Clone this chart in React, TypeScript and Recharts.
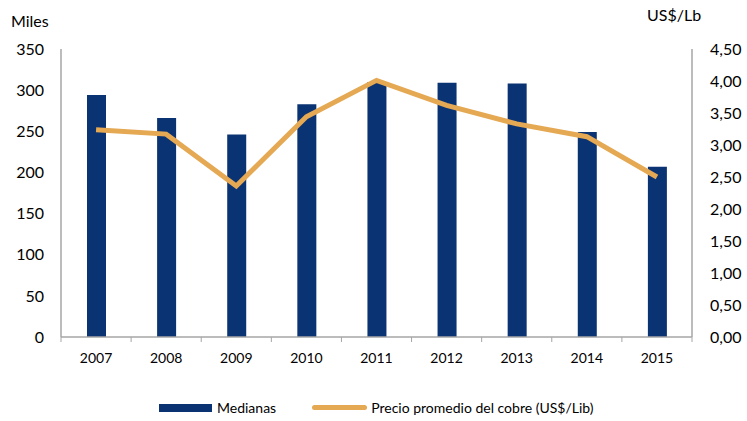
import * as React from "react"
import { Bar, ComposedChart, Line, XAxis, YAxis } from "recharts"

const years = ["2007", "2008", "2009", "2010", "2011", "2012", "2013", "2014", "2015"]
const medianas = [294, 266, 246, 283, 310, 309, 308, 249, 207]
const precioCobre = [3.24, 3.17, 2.36, 3.44, 4.01, 3.62, 3.33, 3.13, 2.5]
const leftTicks = [0, 50, 100, 150, 200, 250, 300, 350]
const rightTicks = [0, 0.5, 1, 1.5, 2, 2.5, 3, 3.5, 4, 4.5]

const BAR_COLOR = "#0A3373"
const LINE_COLOR = "#E5A853"
const AXIS_COLOR = "#A6A6A6"
const FONT = "Lato, 'Open Sans', sans-serif"

const data = years.map((year, i) => ({
    year,
    medianas: medianas[i],
    precio: precioCobre[i],
}))

const fmtRight = (v: number) => v.toFixed(2).replace(".", ",")

// year label plus the little tick marks at the category boundaries
function YearTick(props: any) {
    const { x, y, payload, index, visibleTicksCount } = props
    const half = payload?.offset ?? 0
    const axisY = y
    return (
        <g>
            <line x1={x - half} x2={x - half} y1={axisY} y2={axisY + 5} stroke={AXIS_COLOR} />
            {index === visibleTicksCount - 1 ? (
                <line x1={x + half} x2={x + half} y1={axisY} y2={axisY + 5} stroke={AXIS_COLOR} />
            ) : null}
            <text
                x={x}
                y={axisY + 26}
                textAnchor="middle"
                fontSize={14}
                fontFamily={FONT}
                fill="#000"
            >
                {payload.value}
            </text>
        </g>
    )
}

export default function App() {
    return (
        <div
            style={{
                position: "absolute",
                left: 0,
                top: 0,
                width: 747,
                height: 421,
                background: "#fff",
                fontFamily: FONT,
                color: "#000",
            }}
        >
            <ComposedChart
                width={747}
                height={421}
                data={data}
                margin={{ top: 49, right: 0, bottom: 54, left: 11 }}
            >
                <XAxis
                    dataKey="year"
                    height={30}
                    axisLine={{ stroke: AXIS_COLOR, strokeWidth: 1.5 }}
                    tickLine={false}
                    tickSize={0}
                    tickMargin={0}
                    tick={<YearTick />}
                    interval={0}
                />
                <YAxis
                    yAxisId="left"
                    width={50}
                    domain={[0, 350]}
                    ticks={leftTicks}
                    axisLine={{ stroke: AXIS_COLOR, strokeWidth: 1.5 }}
                    tickLine={false}
                    tickSize={0}
                    tickMargin={17}
                    tick={{ fill: "#000", fontSize: 16, fontFamily: FONT }}
                />
                <YAxis
                    yAxisId="right"
                    orientation="right"
                    width={55}
                    domain={[0, 4.5]}
                    ticks={rightTicks}
                    tickFormatter={fmtRight}
                    axisLine={{ stroke: AXIS_COLOR, strokeWidth: 1.5 }}
                    tickLine={false}
                    tickSize={0}
                    tickMargin={18}
                    tick={{ fill: "#000", fontSize: 16, fontFamily: FONT, textAnchor: "start" }}
                />
                <Bar
                    yAxisId="left"
                    dataKey="medianas"
                    fill={BAR_COLOR}
                    barSize={19}
                    isAnimationActive={false}
                />
                <Line
                    yAxisId="right"
                    dataKey="precio"
                    type="linear"
                    stroke={LINE_COLOR}
                    strokeWidth={5}
                    dot={false}
                    activeDot={false}
                    isAnimationActive={false}
                />
            </ComposedChart>

            <div style={{ position: "absolute", left: 11, top: 11, fontSize: 16 }}>Miles</div>
            <div style={{ position: "absolute", left: 647, top: 5, fontSize: 16 }}>US$/Lb</div>

            <div
                style={{
                    position: "absolute",
                    left: 159,
                    top: 399,
                    display: "flex",
                    alignItems: "center",
                    fontSize: 14,
                }}
            >
                <span style={{ width: 53, height: 8, background: BAR_COLOR, display: "inline-block" }} />
                <span style={{ marginLeft: 5 }}>Medianas</span>
                <span
                    style={{
                        marginLeft: 36,
                        width: 55,
                        height: 5,
                        borderRadius: 3,
                        background: LINE_COLOR,
                        display: "inline-block",
                    }}
                />
                <span style={{ marginLeft: 4 }}>Precio promedio del cobre (US$/Lib)</span>
            </div>
        </div>
    )
}
